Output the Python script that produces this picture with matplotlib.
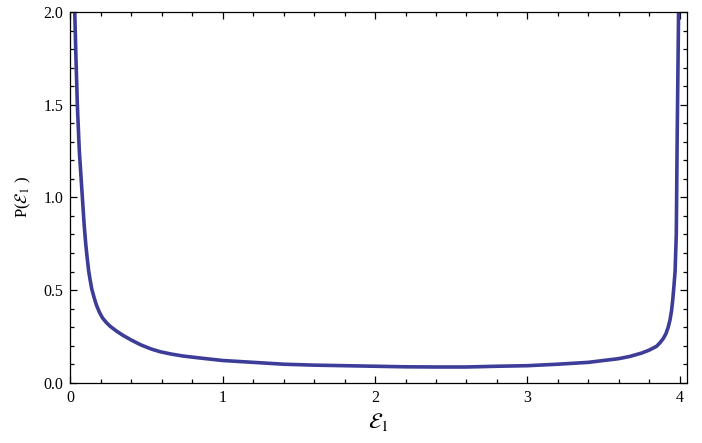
import matplotlib
matplotlib.use("Agg")
import matplotlib.pyplot as plt
from matplotlib.ticker import MultipleLocator

# values
eps = [0.028, 0.036, 0.045, 0.058, 0.078, 0.09, 0.10, 0.11, 0.12, 0.13,
       0.14, 0.155, 0.17, 0.19, 0.21, 0.235, 0.26, 0.3, 0.34, 0.4,
       0.46, 0.53, 0.59, 0.66, 0.74, 0.855, 1.0, 1.2, 1.4, 1.6,
       1.8, 2.0, 2.2, 2.4, 2.6, 2.8, 3.0, 3.2, 3.4, 3.6,
       3.673, 3.75, 3.8, 3.849, 3.87, 3.893, 3.91, 3.925, 3.937, 3.947,
       3.955, 3.962, 3.97, 3.978, 3.984, 3.989, 3.993]
prob = [2.0, 1.75, 1.5, 1.25, 1.0, 0.85, 0.75, 0.67, 0.6, 0.55,
        0.505, 0.46, 0.42, 0.38, 0.35, 0.325, 0.305, 0.28, 0.258, 0.23,
        0.205, 0.182, 0.167, 0.155, 0.144, 0.133, 0.12, 0.11, 0.10, 0.095,
        0.092, 0.089, 0.086, 0.085, 0.085, 0.089, 0.092, 0.10, 0.11, 0.13,
        0.142, 0.16, 0.176, 0.197, 0.215, 0.239, 0.265, 0.30, 0.34, 0.39,
        0.45, 0.516, 0.6, 0.8, 1.34, 1.7, 2.0]

plt.rcParams['font.family'] = 'Liberation Serif'
plt.rcParams['mathtext.fontset'] = 'stix'

fig = plt.figure(figsize=(7.02, 4.43), dpi=100)
ax = fig.add_axes([0.1004, 0.136, 0.8786, 0.837])

ax.plot(eps, prob, color='#3d3d99', lw=2.6, solid_joinstyle='round')

ax.set_xlim(0, 4.05)
ax.set_ylim(0, 2.0)
ax.xaxis.set_major_locator(MultipleLocator(1))
ax.xaxis.set_minor_locator(MultipleLocator(0.2))
ax.yaxis.set_major_locator(MultipleLocator(0.5))
ax.yaxis.set_minor_locator(MultipleLocator(0.1))
ax.yaxis.set_major_formatter(plt.FormatStrFormatter('%.1f'))

ax.tick_params(which='both', direction='in', top=True, right=True, labelsize=11.5, width=0.9)
ax.tick_params(which='major', length=5, pad=5)
ax.tick_params(which='minor', length=2.8)
for s in ax.spines.values():
    s.set_linewidth(0.9)

ax.set_xlabel(r'$\mathcal{E}_1$', fontsize=16, labelpad=4)
ax.set_ylabel(r'P($\mathcal{E}_1$ )', fontsize=12, labelpad=8)

fig.savefig('out.png', dpi=100)
